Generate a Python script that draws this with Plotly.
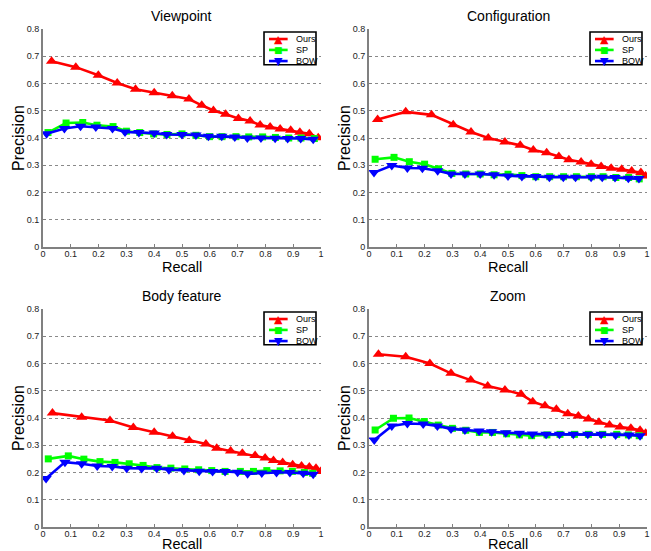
import plotly.graph_objects as go

# ---------------- data ----------------
series_names = ["Ours", "SP", "BOW"]
tick_x = [0, 0.1, 0.2, 0.3, 0.4, 0.5, 0.6, 0.7, 0.8, 0.9, 1]
tick_x_text = ["0", "0.1", "0.2", "0.3", "0.4", "0.5", "0.6", "0.7", "0.8", "0.9", "1"]
tick_y = [0, 0.1, 0.2, 0.3, 0.4, 0.5, 0.6, 0.7, 0.8]
tick_y_text = ["0", "0.1", "0.2", "0.3", "0.4", "0.5", "0.6", "0.7", "0.8"]
panel_titles = ["Viewpoint", "Configuration", "Body feature", "Zoom"]
x_label = "Recall"
y_label = "Precision"

# Viewpoint
vp_ours_r = [0.031, 0.118, 0.199, 0.267, 0.333, 0.40, 0.465, 0.525, 0.571, 0.613,
             0.657, 0.703, 0.745, 0.781, 0.817, 0.853, 0.891, 0.924, 0.958, 0.99]
vp_ours_p = [0.682, 0.660, 0.630, 0.602, 0.579, 0.566, 0.555, 0.543, 0.520, 0.501,
             0.487, 0.472, 0.462, 0.448, 0.440, 0.433, 0.428, 0.421, 0.416, 0.401]
vp_sp_r = [0.018, 0.083, 0.143, 0.194, 0.252, 0.300, 0.348, 0.398, 0.446, 0.500,
           0.550, 0.599, 0.644, 0.694, 0.740, 0.790, 0.836, 0.884, 0.928, 0.976]
vp_sp_p = [0.420, 0.455, 0.457, 0.447, 0.442, 0.425, 0.420, 0.415, 0.413, 0.415,
           0.410, 0.405, 0.405, 0.405, 0.404, 0.404, 0.402, 0.400, 0.400, 0.398]
vp_bow_r = [0.013, 0.077, 0.135, 0.190, 0.250, 0.295, 0.345, 0.400, 0.445, 0.500,
            0.550, 0.595, 0.643, 0.690, 0.735, 0.784, 0.835, 0.880, 0.927, 0.972]
vp_bow_p = [0.416, 0.435, 0.443, 0.440, 0.435, 0.422, 0.420, 0.418, 0.413, 0.413,
            0.411, 0.406, 0.406, 0.404, 0.400, 0.400, 0.399, 0.398, 0.398, 0.395]

# Configuration
cf_ours_r = [0.031, 0.132, 0.225, 0.303, 0.367, 0.429, 0.489, 0.544, 0.591, 0.639,
             0.683, 0.719, 0.763, 0.799, 0.835, 0.871, 0.909, 0.945, 0.978, 0.995]
cf_ours_p = [0.468, 0.496, 0.485, 0.449, 0.422, 0.400, 0.385, 0.373, 0.356, 0.346,
             0.332, 0.320, 0.312, 0.304, 0.295, 0.289, 0.285, 0.279, 0.273, 0.261]
cf_sp_r = [0.022, 0.090, 0.145, 0.200, 0.250, 0.298, 0.348, 0.400, 0.450, 0.500,
           0.550, 0.600, 0.650, 0.700, 0.746, 0.800, 0.842, 0.888, 0.934, 0.972]
cf_sp_p = [0.322, 0.329, 0.313, 0.304, 0.287, 0.270, 0.268, 0.268, 0.265, 0.267,
           0.262, 0.258, 0.258, 0.258, 0.258, 0.258, 0.258, 0.255, 0.255, 0.250]
cf_bow_r = [0.018, 0.082, 0.138, 0.192, 0.247, 0.295, 0.345, 0.400, 0.450, 0.500,
            0.550, 0.600, 0.649, 0.699, 0.743, 0.799, 0.839, 0.885, 0.933, 0.971]
cf_bow_p = [0.273, 0.299, 0.290, 0.289, 0.280, 0.268, 0.268, 0.268, 0.265, 0.261,
            0.259, 0.259, 0.256, 0.256, 0.256, 0.256, 0.256, 0.255, 0.252, 0.251]

# Body feature
bf_ours_r = [0.034, 0.139, 0.241, 0.325, 0.400, 0.466, 0.526, 0.586, 0.625, 0.675,
             0.717, 0.763, 0.799, 0.829, 0.862, 0.898, 0.930, 0.958, 0.982, 0.999]
bf_ours_p = [0.418, 0.403, 0.391, 0.365, 0.348, 0.333, 0.317, 0.305, 0.289, 0.279,
             0.271, 0.262, 0.253, 0.244, 0.237, 0.228, 0.224, 0.220, 0.216, 0.204]
bf_sp_r = [0.019, 0.091, 0.147, 0.205, 0.259, 0.310, 0.360, 0.410, 0.460, 0.510,
           0.560, 0.607, 0.655, 0.710, 0.757, 0.805, 0.853, 0.897, 0.940, 0.970]
bf_sp_p = [0.250, 0.261, 0.249, 0.240, 0.237, 0.232, 0.226, 0.218, 0.216, 0.213,
           0.210, 0.207, 0.204, 0.204, 0.204, 0.207, 0.206, 0.204, 0.200, 0.197]
bf_bow_r = [0.011, 0.079, 0.139, 0.195, 0.249, 0.301, 0.355, 0.409, 0.453, 0.507,
            0.562, 0.610, 0.655, 0.700, 0.736, 0.787, 0.840, 0.888, 0.936, 0.972]
bf_bow_p = [0.178, 0.238, 0.232, 0.224, 0.222, 0.216, 0.215, 0.216, 0.210, 0.207,
            0.205, 0.204, 0.204, 0.201, 0.195, 0.198, 0.200, 0.200, 0.197, 0.194]

# Zoom
zm_ours_r = [0.034, 0.132, 0.219, 0.295, 0.366, 0.427, 0.489, 0.547, 0.589, 0.633,
             0.674, 0.715, 0.753, 0.789, 0.827, 0.865, 0.903, 0.942, 0.975, 0.995]
zm_ours_p = [0.634, 0.625, 0.600, 0.564, 0.539, 0.517, 0.503, 0.487, 0.460, 0.445,
             0.432, 0.416, 0.407, 0.396, 0.384, 0.374, 0.367, 0.362, 0.355, 0.344]
zm_sp_r = [0.022, 0.088, 0.144, 0.199, 0.249, 0.300, 0.348, 0.397, 0.444, 0.495,
           0.541, 0.585, 0.640, 0.687, 0.739, 0.789, 0.840, 0.891, 0.933, 0.972]
zm_sp_p = [0.356, 0.399, 0.400, 0.387, 0.374, 0.362, 0.355, 0.347, 0.347, 0.342,
           0.338, 0.335, 0.338, 0.340, 0.340, 0.340, 0.340, 0.340, 0.338, 0.335]
zm_bow_r = [0.019, 0.082, 0.138, 0.195, 0.246, 0.295, 0.345, 0.396, 0.441, 0.492,
            0.541, 0.588, 0.637, 0.685, 0.735, 0.787, 0.835, 0.887, 0.935, 0.975]
zm_bow_p = [0.319, 0.371, 0.380, 0.378, 0.371, 0.360, 0.356, 0.352, 0.350, 0.346,
            0.344, 0.341, 0.340, 0.340, 0.340, 0.340, 0.340, 0.338, 0.338, 0.335]

panels = [
    [(vp_ours_r, vp_ours_p), (vp_sp_r, vp_sp_p), (vp_bow_r, vp_bow_p)],
    [(cf_ours_r, cf_ours_p), (cf_sp_r, cf_sp_p), (cf_bow_r, cf_bow_p)],
    [(bf_ours_r, bf_ours_p), (bf_sp_r, bf_sp_p), (bf_bow_r, bf_bow_p)],
    [(zm_ours_r, zm_ours_p), (zm_sp_r, zm_sp_p), (zm_bow_r, zm_bow_p)],
]

# ---------------- style ----------------
W, H = 651, 551
colors = ["#ff0000", "#00ff00", "#0000ff"]
symbols = ["triangle-up", "square", "triangle-down"]
glyphs = ["\u25B2", "\u25A0", "\u25BC"]
msizes = [10, 7, 10]
FONT = "Liberation Sans, Arial, Helvetica, sans-serif"

# plot boxes in pixels (left, right, top, bottom)
boxes = [(43, 321, 29, 247), (369, 647, 29, 247),
         (43, 321, 309, 527), (369, 647, 309, 527)]
xlabel_gap = [20, 20, 17, 17]

fig = go.Figure()
layout = dict(
    width=W, height=H, margin=dict(l=0, r=0, t=0, b=0),
    paper_bgcolor="white", plot_bgcolor="white",
    font=dict(family=FONT, color="#000"),
    showlegend=False,
    annotations=[], shapes=[],
)

# legend box geometry, in fractions of each plot box
LEG_X0, LEG_X1, LEG_Y0, LEG_Y1 = 0.795, 0.982, 0.836, 0.986
LEG_ROWS = [0.954, 0.904, 0.853]
LINE_X0, LINE_X1, MARK_X, TEXT_X = 0.813, 0.880, 0.846, 0.902

for i, (pts, box) in enumerate(zip(panels, boxes)):
    n = "" if i == 0 else str(i + 1)
    for j, (r, p) in enumerate(pts):
        fig.add_trace(go.Scatter(
            x=r, y=p, mode="lines+markers", name=series_names[j],
            xaxis="x" + n, yaxis="y" + n,
            line=dict(color=colors[j], width=2.6),
            marker=dict(symbol=symbols[j], size=msizes[j], color=colors[j],
                        line=dict(width=0)),
        ))
    l, rt, t, b = box
    xd = [l / W, rt / W]
    yd = [1 - b / H, 1 - t / H]
    layout["xaxis" + n] = dict(
        domain=xd, anchor="y" + n, range=[0, 1], tickvals=tick_x, ticktext=tick_x_text,
        showgrid=False, zeroline=False, showline=True, linecolor="#808080", linewidth=1.5,
        ticks="inside", ticklen=3, tickcolor="#808080", ticklabelstandoff=-3,
        tickfont=dict(size=9, color="#222"), automargin=False,
        fixedrange=True,
    )
    layout["yaxis" + n] = dict(
        domain=yd, anchor="x" + n, range=[0, 0.8], tickvals=tick_y, ticktext=tick_y_text,
        showgrid=True, gridcolor="#8a8a8a", griddash="dot", gridwidth=1,
        zeroline=False, showline=True, linecolor="#808080", linewidth=2,
        ticks="inside", ticklen=3, tickcolor="#808080",
        tickfont=dict(size=9, color="#222"), automargin=False,
        fixedrange=True,
    )
    xr, yr = "x" + n + " domain", "y" + n + " domain"
    layout["shapes"].append(dict(
        type="rect", xref=xr, yref=yr, x0=LEG_X0, x1=LEG_X1, y0=LEG_Y0, y1=LEG_Y1,
        line=dict(color="black", width=1.6), fillcolor="white", layer="above",
    ))
    for j in range(3):
        yy = LEG_ROWS[j]
        layout["shapes"].append(dict(
            type="line", xref=xr, yref=yr, x0=LINE_X0, x1=LINE_X1, y0=yy, y1=yy,
            line=dict(color=colors[j], width=2.6), layer="above",
        ))
        layout["annotations"].append(dict(
            text=glyphs[j], xref=xr, yref=yr, x=MARK_X, y=yy,
            xanchor="center", yanchor="middle", showarrow=False,
            font=dict(size=11 if j != 1 else 9, color=colors[j], family="DejaVu Sans"),
        ))
        layout["annotations"].append(dict(
            text=series_names[j], xref=xr, yref=yr, x=TEXT_X, y=yy,
            xanchor="left", yanchor="middle", showarrow=False,
            font=dict(size=9, color="#000"),
        ))
    # panel title
    layout["annotations"].append(dict(
        text=panel_titles[i], xref="paper", yref="paper",
        x=(l + rt) / 2 / W, y=1 - (t - 13) / H, xanchor="center", yanchor="middle",
        showarrow=False, font=dict(size=14),
    ))
    # axis labels
    layout["annotations"].append(dict(
        text=x_label, xref="paper", yref="paper",
        x=(l + rt) / 2 / W, y=1 - (b + xlabel_gap[i]) / H, xanchor="center", yanchor="middle",
        showarrow=False, font=dict(size=14.5),
    ))
    layout["annotations"].append(dict(
        text=y_label, xref="paper", yref="paper", textangle=-90,
        x=(l - 25) / W, y=1 - (t + b) / 2 / H, xanchor="center", yanchor="middle",
        showarrow=False, font=dict(size=16),
    ))

fig.update_layout(**layout)
fig.write_html("out.html", config={"displayModeBar": False},
               post_script="document.body.style.margin='0';document.body.style.overflow='hidden';")
